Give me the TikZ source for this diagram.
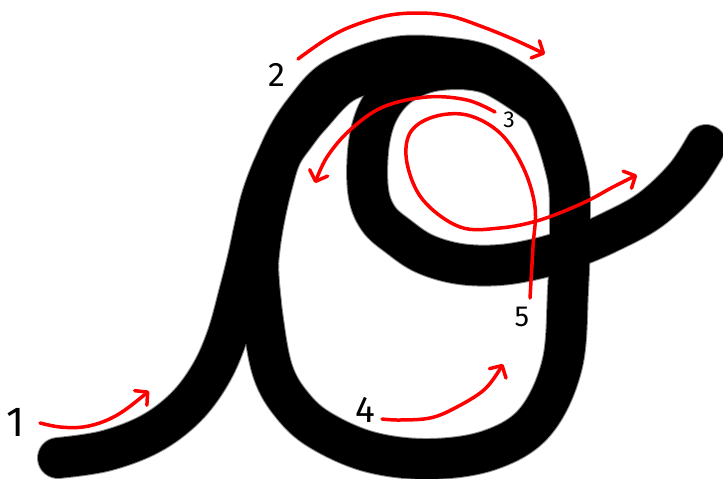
\documentclass[tikz,border=0pt]{standalone}
\usepackage{fontspec}
\setmainfont{Fira Sans}
\usetikzlibrary{arrows.meta}
\tikzset{
  inkhalo/.style={line width=42pt, black!45, line cap=round, line join=round},
  ink/.style={line width=40pt, black, line cap=round, line join=round},
  redarrow/.style={line width=3.5pt, red, line cap=round, line join=round,
    -{Straight Barb[length=9pt,width=19pt,round]}},
  numlabel/.style={inner sep=0pt, text=black},
}
\newcommand\pathUp{plot[smooth, tension=0.6] coordinates {(58,458) (105,451) (150,434) (185,408) (210,375) (227,337) (240,290) (248,258) (254,230) (261,200) (271,172) (284,144)}}
\newcommand\pathO{plot[smooth cycle, tension=0.6] coordinates {(269,183) (284,143) (305,110) (335,79) (390,58) (440,57) (491,68) (541,106) (566,170) (570,220) (568,290) (562,365) (535,422) (490,450) (430,459) (370,452) (320,430) (292,405) (273,372) (263,320) (258,265) (261,224)}}
\newcommand\pathRe{plot[smooth, tension=0.6] coordinates {(490,72) (430,66) (385,70) (343,83) (311,115) (295,135) (281,156) (272,185) (265,215) (260,245) (258,272) (261,305)}}
\newcommand\pathLoop{plot[smooth, tension=0.6] coordinates {(541,106) (490,74) (440,70) (403,83) (380,108) (369,143) (368,190) (378,218) (399,237) (425,254) (460,264) (500,265) (540,258) (575,247) (610,232) (650,210) (685,177) (706,145)}}
\begin{document}
\begin{tikzpicture}[x=1pt,y=-1pt]
\useasboundingbox[fill=white] (0,0) rectangle (723,479);
% soft edge
\draw[inkhalo] \pathUp;
\draw[inkhalo] \pathO;
\draw[inkhalo] \pathRe;
\draw[inkhalo] \pathLoop;
% letter stroke
\draw[ink] \pathUp;
\draw[ink] \pathO;
\draw[ink] \pathRe;
\draw[ink] \pathLoop;
% labels
\node[numlabel, font=\fontsize{42}{42}\selectfont] (n1) at (16,422) {1};
\node[numlabel, font=\fontsize{34}{34}\selectfont] (n2) at (277,75) {2};
\node[numlabel, font=\fontsize{23}{23}\selectfont] (n3) at (509,120) {3};
\node[numlabel, font=\fontsize{37}{37}\selectfont] (n4) at (365,410) {4};
\node[numlabel, font=\fontsize{29}{29}\selectfont] (n5) at (522,317) {5};
% red direction arrows
\draw[redarrow] plot[smooth, tension=0.6] coordinates {(40,423) (60,427) (83,427) (105,421) (125,410) (149,391)};
\draw[redarrow] plot[smooth, tension=0.6] coordinates {(298,59) (325,40) (350,27) (385,16) (417,13) (450,16) (483,27) (515,40) (545,54)};
\draw[redarrow] plot[smooth, tension=0.6] coordinates {(495,112) (467,100) (427,97) (383,107) (350,130) (327,157) (315,183)};
\draw[redarrow] plot[smooth, tension=0.6] coordinates {(382,419) (400,420) (430,418) (455,408) (485,389) (503,364)};
\draw[redarrow] plot[smooth, tension=0.6] coordinates {(530,298) (533,247) (535,207) (523,167) (500,133) (467,115) (433,117) (410,133) (407,163) (423,200) (460,227) (500,228) (540,220) (583,203) (613,187) (637,175)};
\end{tikzpicture}
\end{document}
